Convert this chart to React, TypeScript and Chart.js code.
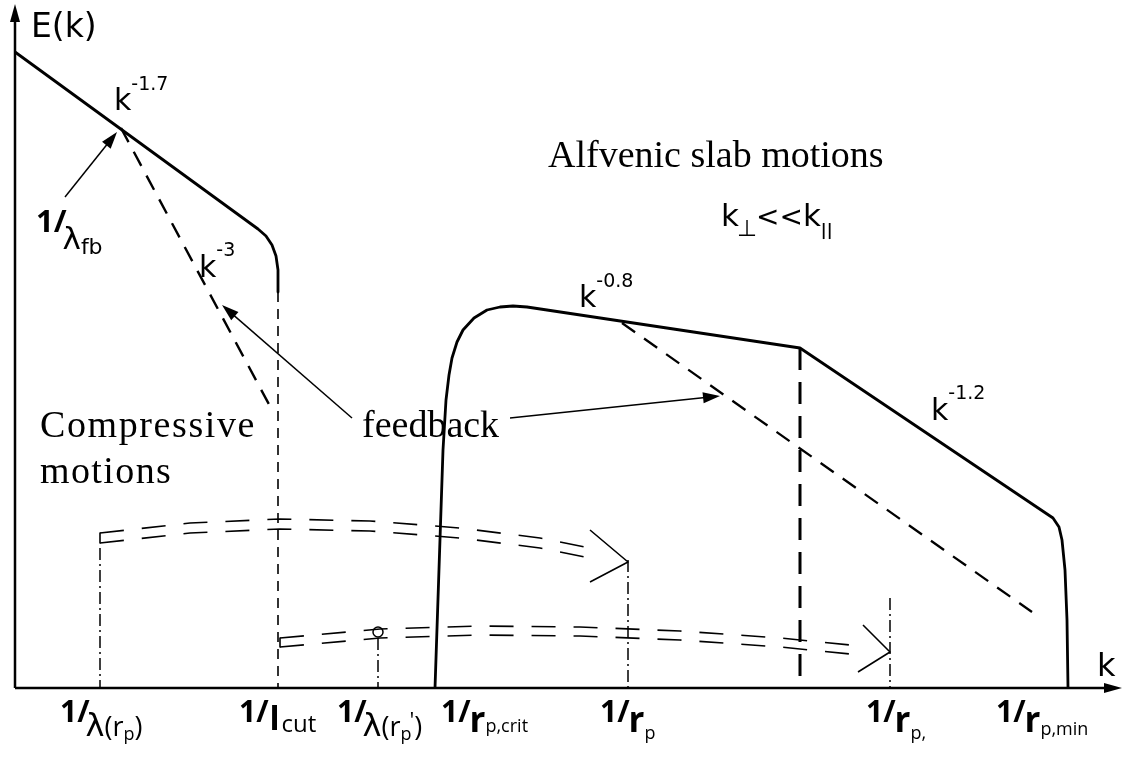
import React, { useEffect, useRef } from "react";
import { Chart, registerables } from "chart.js";
Chart.register(...registerables);

const W = 1125;
const H = 757;

// ---- spectrum data (k in axis units, E = height above the k-axis) ----
const compK = [15, 258, 266, 272, 276, 278, 278];
const compE = [636, 459, 452, 443, 432, 418, 396];

const steepK = [121, 272];
const steepE = [560, 278];

const cutK = [278, 278];
const cutE = [396, 0];

const alfK = [435, 443, 446, 449, 452, 457, 463, 474, 487, 500, 513, 527, 800, 1053, 1059, 1062, 1065, 1067, 1068];
const alfE = [0, 238, 288, 313, 330, 346, 358, 370, 378, 381, 382, 381, 340, 170, 161, 148, 118, 68, 0];

const fbK = [622, 1032];
const fbE = [365, 76];

const breakK = [800, 800];
const breakE = [340, 0];

// double dashed transfer arcs
const arcAK = [100, 190, 280, 370, 460, 540, 585];
const arcAUpE = [155, 165, 169, 167, 160, 150, 141];
const arcALoE = [145, 155, 159, 157, 150, 140, 131];
const arcAHeadK = [590, 628, 590];
const arcAHeadE = [158, 126, 106];

const arcBK = [280, 380, 480, 580, 680, 780, 860];
const arcBUpE = [50, 59, 62, 61, 57, 50, 42];
const arcBLoE = [41, 50, 53, 52, 48, 41, 33];
const arcBHeadK = [863, 890, 858];
const arcBHeadE = [63, 36, 16];

// dash-dotted markers
const markK = [100, 628, 378, 890];
const markTopE = [140, 128, 50, 90];
const circleK = [378];
const circleE = [56];

// axes
const xAxisK = [15, 1108];
const xAxisE = [0, 0];
const yAxisK = [15, 15];
const yAxisE = [0, 672];

// annotation arrows
const arrowFromK = [65, 352, 510];
const arrowFromE = [491, 270, 270];
const arrowToK = [117, 222, 720];
const arrowToE = [556, 383, 292];

// tick labels
const tickLabelK = [60, 239, 337, 441, 600, 866, 996];
const tickLabelE = -34;

const SANS = '"DejaVu Sans"';
const SERIF = '"Liberation Serif"';
const TICK = '"Open Sans"';

type Part = { t: string; f: string; dy?: number; dx?: number };

const one: Part = { t: "1/", f: `bold 30px ${TICK}` };
const lam: Part = { t: "λ", f: `32px ${SANS}`, dy: 14, dx: -4 };
const rBold: Part = { t: "r", f: `bold 35px ${TICK}`, dy: 10, dx: -1 };
const tickLabels: Part[][] = [
  [one, lam, { t: "(", f: `27px ${TICK}`, dy: 14 }, { t: "r", f: `27px ${TICK}`, dy: 14 }, { t: "p", f: `18px ${TICK}`, dy: 18 }, { t: ")", f: `27px ${TICK}`, dy: 14 }],
  [one, { t: "l", f: `bold 33px ${TICK}`, dy: 8, dx: 1 }, { t: "cut", f: `24px ${TICK}`, dy: 10, dx: 2 }],
  [one, lam, { t: "(", f: `27px ${TICK}`, dy: 14 }, { t: "r", f: `27px ${TICK}`, dy: 14 }, { t: "p", f: `18px ${TICK}`, dy: 18 }, { t: "'", f: `22px ${TICK}`, dy: 6, dx: -2 }, { t: ")", f: `27px ${TICK}`, dy: 14 }],
  [one, rBold, { t: "p,crit", f: `18px ${TICK}`, dy: 10 }],
  [one, rBold, { t: "p", f: `18px ${TICK}`, dy: 17 }],
  [one, rBold, { t: "p,", f: `18px ${TICK}`, dy: 17 }],
  [one, rBold, { t: "p,min", f: `18px ${TICK}`, dy: 13 }],
];

type Label = { k: number; e: number; parts: Part[]; spacing?: string };
const labels: Label[] = [
  { k: 31, e: 651, parts: [{ t: "E(k)", f: `33px ${SANS}` }] },
  { k: 1097, e: 12, parts: [{ t: "k", f: `32px ${SANS}` }] },
  { k: 114, e: 578, parts: [{ t: "k", f: `30px ${SANS}` }, { t: "-1.7", f: `19px ${SANS}`, dy: -20 }] },
  { k: 199, e: 411, parts: [{ t: "k", f: `30px ${SANS}` }, { t: "-3", f: `19px ${SANS}`, dy: -21 }] },
  { k: 579, e: 381, parts: [{ t: "k", f: `30px ${SANS}` }, { t: "-0.8", f: `19px ${SANS}`, dy: -20 }] },
  { k: 931, e: 268, parts: [{ t: "k", f: `30px ${SANS}` }, { t: "-1.2", f: `19px ${SANS}`, dy: -21 }] },
  { k: 36, e: 456, parts: [{ t: "1/", f: `bold 31px ${TICK}` }, { t: "λ", f: `31px ${SANS}`, dy: 17, dx: -4 }, { t: "fb", f: `22px ${SANS}`, dy: 22 }] },
  { k: 721, e: 462, parts: [{ t: "k", f: `31px ${SANS}` }, { t: "⊥", f: `23px ${SANS}`, dy: 10, dx: -2 }, { t: "<<", f: `28px ${SANS}`, dx: -1 }, { t: "k", f: `31px ${SANS}` }, { t: "||", f: `bold 16px ${SANS}`, dy: 9, dx: 0 }] },
  { k: 548, e: 521, parts: [{ t: "Alfvenic slab motions", f: `38px ${SERIF}` }] },
  { k: 40, e: 251, parts: [{ t: "Compressive", f: `38px ${SERIF}` }], spacing: "1.6px" },
  { k: 40, e: 205, parts: [{ t: "motions", f: `38px ${SERIF}` }], spacing: "1.4px" },
  { k: 362, e: 251, parts: [{ t: "feedback", f: `38px ${SERIF}` }] },
];

const pts = (ks: number[], es: number[]) => ks.map((k, i) => ({ x: k, y: es[i] }));

function line(data: { x: number; y: number }[], width: number, dash: number[] = []) {
  return {
    data,
    showLine: true,
    borderColor: "#000",
    borderWidth: width,
    borderDash: dash,
    borderJoinStyle: "round" as const,
    pointRadius: 0,
    pointHoverRadius: 0,
    fill: false,
    tension: 0,
  };
}

function drawHead(ctx: CanvasRenderingContext2D, x1: number, y1: number, x2: number, y2: number, len: number, half: number) {
  const a = Math.atan2(y2 - y1, x2 - x1);
  ctx.beginPath();
  ctx.moveTo(x2, y2);
  ctx.lineTo(x2 - len * Math.cos(a) + half * Math.sin(a), y2 - len * Math.sin(a) - half * Math.cos(a));
  ctx.lineTo(x2 - len * Math.cos(a) - half * Math.sin(a), y2 - len * Math.sin(a) + half * Math.cos(a));
  ctx.closePath();
  ctx.fill();
}

function drawParts(ctx: CanvasRenderingContext2D, parts: Part[], x: number, y: number) {
  let cx = x;
  for (const p of parts) {
    ctx.font = p.f;
    cx += p.dx || 0;
    ctx.fillText(p.t, cx, y + (p.dy || 0));
    cx += ctx.measureText(p.t).width;
  }
}

const overlay = {
  id: "overlay",
  afterDatasetsDraw(chart: any) {
    const ctx: CanvasRenderingContext2D = chart.ctx;
    const xs = chart.scales.x;
    const ys = chart.scales.y;
    const px = (k: number) => xs.getPixelForValue(k);
    const py = (e: number) => ys.getPixelForValue(e);
    ctx.save();
    ctx.fillStyle = "#000";
    ctx.strokeStyle = "#000";
    // axis arrowheads
    drawHead(ctx, px(xAxisK[0]), py(0), px(xAxisK[1]) + 14, py(0), 18, 5);
    drawHead(ctx, px(15), py(0), px(15), py(yAxisE[1]) - 12, 18, 5);
    // annotation arrows
    ctx.lineWidth = 1.5;
    for (let i = 0; i < arrowFromK.length; i++) {
      const x1 = px(arrowFromK[i]), y1 = py(arrowFromE[i]);
      const x2 = px(arrowToK[i]), y2 = py(arrowToE[i]);
      const a = Math.atan2(y2 - y1, x2 - x1);
      ctx.beginPath();
      ctx.moveTo(x1, y1);
      ctx.lineTo(x2 - 10 * Math.cos(a), y2 - 10 * Math.sin(a));
      ctx.stroke();
      drawHead(ctx, x1, y1, x2, y2, 17, 5.5);
    }
    // texts
    ctx.textBaseline = "alphabetic";
    ctx.textAlign = "left";
    for (const l of labels) {
      (ctx as any).letterSpacing = l.spacing || "0px";
      drawParts(ctx, l.parts, px(l.k), py(l.e));
    }
    (ctx as any).letterSpacing = "0px";
    tickLabels.forEach((parts, i) => drawParts(ctx, parts, px(tickLabelK[i]), py(tickLabelE)));
    ctx.restore();
  },
};

export default function App() {
  const ref = useRef<HTMLCanvasElement>(null);
  useEffect(() => {
    document.body.style.margin = "0";
    const datasets: any[] = [
      line(pts(xAxisK, xAxisE), 2.5),
      line(pts(yAxisK, yAxisE), 2.5),
      line(pts(compK, compE), 2.8),
      line(pts(steepK, steepE), 2.4, [16, 11]),
      line(pts(cutK, cutE), 1.6, [10, 7]),
      line(pts(alfK, alfE), 2.8),
      line(pts(fbK, fbE), 2.3, [16, 11]),
      line(pts(breakK, breakE), 3, [22, 12]),
      line(pts(arcAK, arcAUpE), 1.6, [24, 18]),
      line(pts(arcAK, arcALoE), 1.6, [24, 18]),
      line(pts([arcAK[0], arcAK[0]], [arcAUpE[0], arcALoE[0]]), 1.6),
      line(pts(arcAHeadK, arcAHeadE), 1.6),
      line(pts(arcBK, arcBUpE), 1.6, [24, 18]),
      line(pts(arcBK, arcBLoE), 1.6, [24, 18]),
      line(pts([arcBK[0], arcBK[0]], [arcBUpE[0], arcBLoE[0]]), 1.6),
      line(pts(arcBHeadK, arcBHeadE), 1.6),
      ...markK.map((k, i) => line(pts([k, k], [markTopE[i], 0]), 1.5, [12, 4, 2, 4])),
      {
        data: pts(circleK, circleE),
        showLine: false,
        pointRadius: 5,
        pointHoverRadius: 5,
        pointBackgroundColor: "#fff",
        pointBorderColor: "#000",
        pointBorderWidth: 1.5,
      },
    ];
    const chart = new Chart(ref.current as HTMLCanvasElement, {
      type: "scatter",
      data: { datasets },
      options: {
        animation: false,
        responsive: false,
        devicePixelRatio: 1,
        layout: { padding: 0, autoPadding: false },
        plugins: { legend: { display: false }, tooltip: { enabled: false } },
        events: [],
        scales: {
          x: { type: "linear", min: 0, max: W, display: false },
          y: { type: "linear", min: -(H - 688), max: 688, display: false },
        },
      },
      plugins: [overlay],
    });
    return () => chart.destroy();
  }, []);
  return (
    <div style={{ position: "fixed", left: 0, top: 0, width: W, height: H, background: "#fff" }}>
      <canvas ref={ref} width={W} height={H} />
    </div>
  );
}
